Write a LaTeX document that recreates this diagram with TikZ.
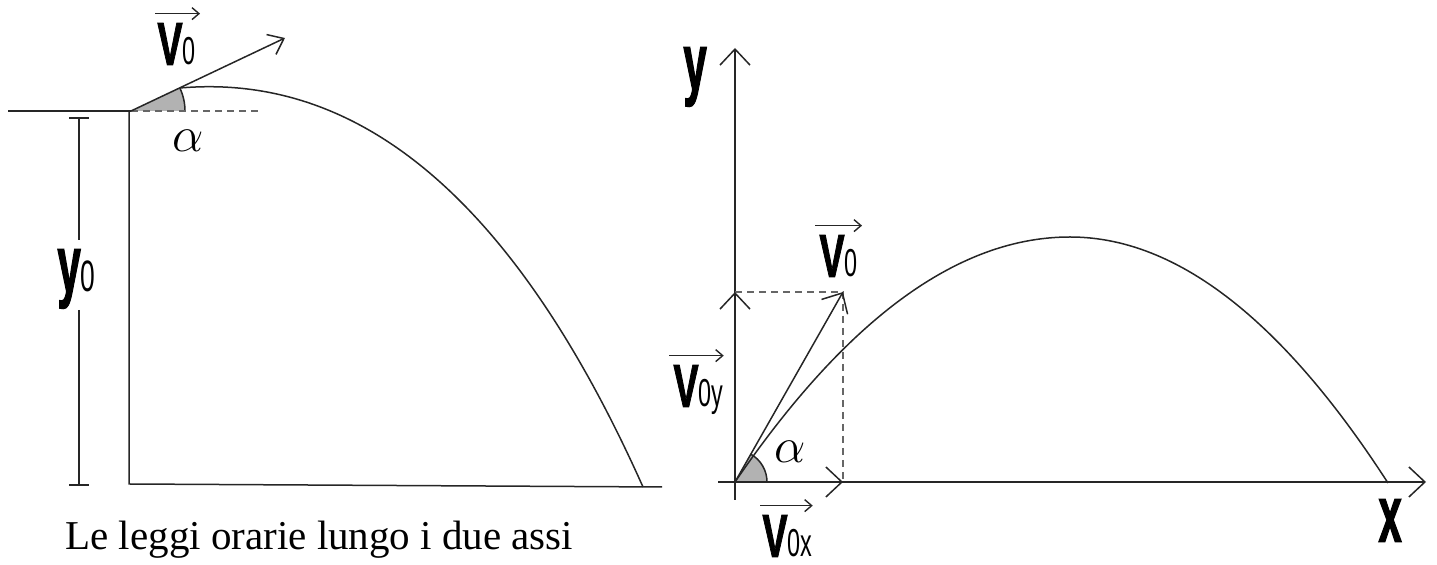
\documentclass[tikz,border=0pt]{standalone}
\usepackage{fontspec}
\setmainfont{Liberation Serif}
\newfontfamily\condA{Liberation Sans}[FakeStretch=0.6]
\newfontfamily\condAB{Liberation Sans Bold}[FakeStretch=0.62, FakeBold=1.2]
\newfontfamily\condB{Liberation Sans Bold}[FakeStretch=0.52, FakeBold=1.2]
\usetikzlibrary{arrows.meta}
\newcommand{\bigV}{{\condAB\fontsize{30.5}{31}\selectfont V}}
\newcommand{\subtx}[1]{{\condA\fontsize{19.5}{20}\selectfont #1}}
\newcommand{\axlbl}[1]{{\condB\fontsize{40.5}{41}\selectfont #1}}
\tikzset{
  ln/.style={draw=black!85, line width=0.75pt},
  axarr/.style={ln, -{Straight Barb[length=8pt,width=15pt]}},
  midarr/.style={ln, -{Straight Barb[length=7pt,width=11pt]}},
  vecarr/.style={draw=black!85, line width=0.7pt, -{Straight Barb[length=3.5pt,width=6pt]}},
  dsh/.style={draw=black!60, line width=0.75pt, dash pattern=on 3.5pt off 2.5pt},
  wedgefill/.style={fill=black!30},
  lbl/.style={inner sep=0pt, anchor=base west},
  alab/.style={inner sep=0pt, font=\fontsize{32}{33}\selectfont}
}
\begin{document}
\begin{tikzpicture}[x=0.5pt,y=-0.5pt]
\useasboundingbox (0,0) rectangle (1437,565);

% ---------- left figure ----------
\coordinate (L0) at (131,111);
\coordinate (Ltop) at (8,111);
\coordinate (Lwall) at (129,111);
\coordinate (Lbase) at (129,484);
\coordinate (Lend) at (662,487);
\coordinate (Ltip) at (285,38);
\coordinate (Ldash) at (258,111);
\coordinate (Lstart) at (180,88);
\coordinate (Lland) at (643,487);

\draw[ln] (Ltop) -- (L0);
\draw[ln] (Lwall) -- (Lbase) -- (Lend);
\fill[wedgefill] (L0) -- ++(54,0) arc[start angle=0,end angle=-25.4,radius=54] -- cycle;
\draw[ln] (L0) ++(54,0) arc[start angle=0,end angle=-25.4,radius=54];
\draw[dsh] (L0) -- (Ldash);
\draw[midarr] (L0) -- (Ltip);
\draw[ln] (Lstart) .. controls (330,75) and (496,158) .. (Lland);

% dimension y0
\coordinate (D1) at (79,118);
\coordinate (D2) at (79,240);
\coordinate (D3) at (79,310);
\coordinate (D4) at (79,485);
\draw[ln] (D1) -- (D2);
\draw[ln] (D3) -- (D4);
\draw[ln] (69,118) -- (89,118);
\draw[ln] (69,485) -- (89,485);
\node[lbl] (y0) at (57,292) {\axlbl{y}\subtx{\fontsize{22}{22}\selectfont 0}};

\node[lbl] (LV) at (157,65) {\bigV\subtx{0}};
\draw[vecarr] ([xshift=-1pt,yshift=4.5pt]LV.north west) -- ([xshift=2pt,yshift=4.5pt]LV.north east);
\node[alab] (La) at (188,141) {$\alpha$};

% ---------- right figure ----------
\coordinate (O) at (735,482);
\coordinate (Ybot) at (735,500);
\coordinate (Ytop) at (735,48);
\coordinate (Xleft) at (718,482);
\coordinate (Xright) at (1426,482);
\coordinate (Vy) at (735,292);
\coordinate (Vx) at (843,482);
\coordinate (V) at (843,292);

\draw[axarr] (Ybot) -- (Ytop);
\draw[axarr] (Xleft) -- (Xright);
\fill[wedgefill] (O) -- ++(32,0) arc[start angle=0,end angle=-60.4,radius=32] -- cycle;
\draw[ln] (O) ++(32,0) arc[start angle=0,end angle=-60.4,radius=32];
\draw[dsh] (Vy) -- (V) -- (Vx);
\draw[axarr] (O) -- (Vy);
\draw[axarr] (O) -- (Vx);
\draw[axarr] (O) -- (V);
\draw[ln] plot[domain=735:1070,samples=60] (\x,{237+245*((\x-1070)/335)^2})
          -- plot[domain=1070:1388,samples=60] (\x,{237+246*((\x-1070)/318)^2});

\node[lbl] (ylab) at (683,90) {\axlbl{y}};
\node[lbl] (xlab) at (1378,542) {\axlbl{x}};

\node[lbl] (RV) at (819,277) {\bigV\subtx{0}};
\draw[vecarr] ([xshift=-2pt,yshift=4.5pt]RV.north west) -- ([xshift=2pt,yshift=4.5pt]RV.north east);
\node[lbl] (RVy) at (673,407) {\bigV\subtx{0y}};
\draw[vecarr] ([xshift=-2pt,yshift=4.5pt]RVy.north west) -- ([xshift=0pt,yshift=4.5pt]RVy.north east);
\node[lbl] (RVx) at (762,557) {\bigV\subtx{0x}};
\draw[vecarr] ([xshift=-1pt,yshift=4.5pt]RVx.north west) -- ([xshift=0pt,yshift=4.5pt]RVx.north east);
\node[alab] (Ra) at (790,452) {$\alpha$};

% caption
\node[lbl, font=\fontsize{20.5}{21}\selectfont] (cap) at (65,550) {Le leggi orarie lungo i due assi};
\end{tikzpicture}
\end{document}
